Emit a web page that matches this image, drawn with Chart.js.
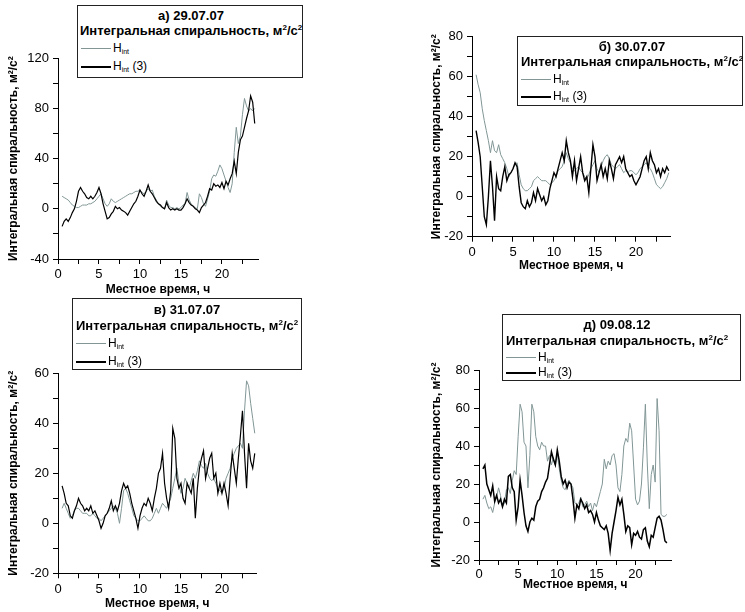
<!DOCTYPE html>
<html lang="ru">
<head>
<meta charset="utf-8">
<script src="https://cdn.jsdelivr.net/npm/chart.js@4.4.0/dist/chart.umd.min.js"></script>
<style>
  body { margin: 0; background: #fff; font-family: "Liberation Sans", Arial, sans-serif; }
  #page { position: relative; width: 745px; height: 612px; overflow: hidden; }
  canvas { position: absolute; left: 0; top: 0; }
  .box { position: absolute; box-sizing: border-box; border: 1px solid #222; background: #fff; color: #000; }
  .box div { position: absolute; white-space: nowrap; line-height: 14px; }
  .hd, .sub { font-weight: bold; font-size: 13px; }
  .hd { text-align: center; }
  .it { font-size: 12px; left: 3px; }
  .sw { display: inline-block; width: 30px; vertical-align: middle; margin-right: 2px; }
  .sw.g { border-top: 1px solid #829696; }
  .sw.k { border-top: 2px solid #000; }
  sub { font-size: 7px; vertical-align: -2px; }
  sup { font-size: 8px; vertical-align: 5px; line-height: 0; }
</style>
</head>
<body>
<div id="page">
  <canvas id="chA" width="745" height="612"></canvas>
  <canvas id="chB" width="745" height="612"></canvas>
  <canvas id="chV" width="745" height="612"></canvas>
  <canvas id="chD" width="745" height="612"></canvas>

  <div class="box" style="left:77px;top:5px;width:226px;height:73px">
    <div class="hd" style="top:3px;left:2px;width:222px">а) 29.07.07</div>
    <div class="sub" style="top:18px;left:2px">Интегральная спиральность, м<sup>2</sup>/с<sup>2</sup></div>
    <div class="it" style="top:35px"><span class="sw g"></span>H<sub>int</sub></div>
    <div class="it" style="top:53px"><span class="sw k"></span>H<sub>int</sub> (3)</div>
  </div>
  <div class="box" style="left:517px;top:36px;width:226px;height:70px">
    <div class="hd" style="top:3px;left:3px;width:222px">б) 30.07.07</div>
    <div class="sub" style="top:18px;left:3px">Интегральная спиральность, м<sup>2</sup>/с<sup>2</sup></div>
    <div class="it" style="top:35px"><span class="sw g"></span>H<sub>int</sub></div>
    <div class="it" style="top:52px"><span class="sw k"></span>H<sub>int</sub> (3)</div>
  </div>
  <div class="box" style="left:72px;top:298px;width:230px;height:72px">
    <div class="hd" style="top:4px;left:3px;width:222px">в) 31.07.07</div>
    <div class="sub" style="top:20px;left:3px">Интегральная спиральность, м<sup>2</sup>/с<sup>2</sup></div>
    <div class="it" style="top:37px"><span class="sw g"></span>H<sub>int</sub></div>
    <div class="it" style="top:55px"><span class="sw k"></span>H<sub>int</sub> (3)</div>
  </div>
  <div class="box" style="left:502px;top:314px;width:239px;height:67px">
    <div class="hd" style="top:3px;left:3px;width:222px">д) 09.08.12</div>
    <div class="sub" style="top:19px;left:3px">Интегральная спиральность, м<sup>2</sup>/с<sup>2</sup></div>
    <div class="it" style="top:35px"><span class="sw g"></span>H<sub>int</sub></div>
    <div class="it" style="top:50px"><span class="sw k"></span>H<sub>int</sub> (3)</div>
  </div>
</div>

<script>
// local time, hours
const hours = [
  0.5, 0.75, 1, 1.25, 1.5, 1.75, 2, 2.25, 2.5, 2.75,
  3, 3.25, 3.5, 3.75, 4, 4.25, 4.5, 4.75, 5, 5.25,
  5.5, 5.75, 6, 6.25, 6.5, 6.75, 7, 7.25, 7.5, 7.75,
  8, 8.25, 8.5, 8.75, 9, 9.25, 9.5, 9.75, 10, 10.25,
  10.5, 10.75, 11, 11.25, 11.5, 11.75, 12, 12.25, 12.5, 12.75,
  13, 13.25, 13.5, 13.75, 14, 14.25, 14.5, 14.75, 15, 15.25,
  15.5, 15.75, 16, 16.25, 16.5, 16.75, 17, 17.25, 17.5, 17.75,
  18, 18.25, 18.5, 18.75, 19, 19.25, 19.5, 19.75, 20, 20.25,
  20.5, 20.75, 21, 21.25, 21.5, 21.75, 22, 22.25, 22.5, 22.75,
  23, 23.25, 23.5, 23.75, 24
];

// а) 29.07.07
const aHint = [
  10, 9, 8, 7, 5, 3, 2, 1, 1, 2,
  3, 3, 3, 4, 4, 5, 6, 8, 10, 12,
  8, 4, 2, 4, 8, 6, 5, 6, 7, 8,
  9, 10, 11, 12, 12, 13, 14, 14, 15, 13,
  12, 14, 16, 14, 15, 10, 7, 4, 2, 1,
  0, 7, 3, 1, 1, 0, 1, 0, 1, 3,
  4, 13, 7, 4, 2, 1, 0, 12, 9, 4,
  2, 8, 14, 24, 27, 26, 30, 35, 32, 27,
  22, 17, 13, 20, 45, 65, 52, 58, 75, 88,
  82, 78, 80, 78, 80
];
const aHint3 = [
  -14, -10, -8, -10, -7, -3, 0, 6, 14, 17,
  14, 12, 9, 8, 10, 8, 10, 13, 17, 12,
  4, -2, -8, -7, -4, -2, 2, 0, 1, -1,
  -2, -3, -5, -2, 1, 4, 6, 10, 15, 12,
  10, 14, 19, 14, 12, 9, 6, 4, 3, 1,
  0, 5, 1, -1, 0, -1, 0, -1, -1, 1,
  4, 8, 5, 3, 2, 0, -1, -3, 1, 3,
  5, 10, 16, 15, 20, 18, 19, 17, 21, 16,
  22, 19, 24, 28, 38, 28, 45, 55, 58, 65,
  72, 78, 90, 85, 68
];

// б) 30.07.07
const bHint = [
  61, 56, 52, 44, 38, 33, 28, 22, 28, 23,
  22, 26, 21, 19, 17, 14, 10, 12, 14, 16,
  17, 11, 6, 4, 3, 3, 4, 5, 8, 9,
  10, 9, 8, 8, 8, 7, 6, 7, 8, 10,
  13, 14, 15, 18, 22, 19, 17, 14, 13, 14,
  15, 13, 12, 10, 9, 11, 14, 16, 18, 14,
  12, 15, 18, 20, 21, 19, 16, 15, 14, 15,
  16, 14, 12, 13, 12, 13, 13, 12, 11, 12,
  14, 15, 16, 17, 15, 14, 12, 9, 6, 5,
  4, 5, 7, 9, 12
];
const bHint3 = [
  33, 27, 20, 5, -10, -14, 0, 18, 5, -12,
  10, 4, 3, 10, 15, 8, 11, 12, 14, 17,
  15, 5, -3, -5, -6, -2, -5, -3, 2, -2,
  4, 1, -2, 0, -4, -2, 4, 8, 12, 10,
  14, 18, 22, 18, 28, 22, 18, 10, 18, 8,
  14, 20, 12, 8, 10, 2, 14, 26, 20, 8,
  12, 16, 10, 14, 9, 18, 14, 9, 16, 18,
  20, 17, 20, 14, 12, 10, 11, 8, 6, 8,
  10, 14, 18, 20, 14, 22, 18, 16, 12, 14,
  10, 14, 12, 15, 13
];

// в) 31.07.07
const vHint = [
  6, 8, 6, 4, 2, 3, 5, 6, 6, 5,
  4, 4, 4, 3, 3, 4, 3, 2, 2, 1,
  2, 3, 4, 5, 6, 7, 6, 4, 0, 6,
  13, 14, 12, 9, 6, 3, 2, 1, 1, 2,
  3, 2, 1, 1, 2, 4, 6, 4, 6, 8,
  7, 6, 8, 10, 14, 18, 22, 16, 12, 14,
  18, 16, 14, 17, 20, 18, 21, 25, 23, 22,
  24, 20, 18, 17, 18, 16, 14, 13, 12, 14,
  18, 20, 22, 26, 28, 30, 31, 32, 30, 45,
  57, 55, 48, 42, 36
];
const vHint3 = [
  15, 12, 8, 7, 3, 2, 5, 7, 10, 8,
  7, 5, 6, 5, 7, 4, 5, 3, 1, -2,
  0, 3, 4, 6, 9, 5, 7, 5, 8, 13,
  16, 14, 15, 12, 8, 5, 2, -2, 3, 6,
  8, 7, 10, 8, 5, 10, 14, 20, 22, 28,
  16, 10, 6, 13, 38, 34, 18, 14, 16, 10,
  8, 16, 14, 12, 18, 2, 14, 22, 26, 29,
  18, 22, 26, 28, 18, 20, 12, 16, 12, 16,
  12, 7, 18, 28, 22, 16, 26, 35, 45, 28,
  14, 32, 25, 22, 28
];

// д) 09.08.12
const dHint = [
  12, 14, 10, 7, 8, 5, 10, 13, 18, 14,
  8, 10, 17, 18, 15, 22, 27, 25, 45, 62,
  58, 42, 40, 18, 35, 62, 58, 45, 40, 38,
  42, 40, 40, 32, 35, 30, 34, 30, 36, 28,
  22, 18, 17, 20, 22, 20, 18, 10, 9, 10,
  13, 8, 9, 11, 8, 10, 6, 10, 8, 12,
  16, 20, 33, 28, 32, 30, 35, 36, 30, 18,
  16, 25, 40, 44, 42, 52, 48, 30, 12, 9,
  11, 20, 39, 62, 30, 7, 25, 30, 21, 65,
  48, 4, 3, 3, 4
];
const dHint3 = [
  28, 30, 20, 17, 14, 19, 11, 14, 10, 12,
  8, 12, 10, 24, 25, 18, 16, 1, 8, 22,
  14, 5, -2, -5, 0, 2, 1, 8, 11, 12,
  16, 18, 21, 23, 30, 37, 33, 30, 38, 32,
  24, 20, 22, 18, 21, 20, 12, 2, 9, 7,
  12, 10, 7, 9, 5, 6, 4, 0, 5, 1,
  -2, -3, -4, -2, -6, -15, -6, 0, 6, 13,
  9, 12, 4, -5, -2, -3, -12, -6, -7, -5,
  -8, -9, -4, -3, -10, -13, -7, -8, -3, 2,
  3, 1, -4, -10, -11
];

const grayColor = '#829696';
const fontFamily = '"Liberation Sans", Arial, sans-serif';
Chart.defaults.font.family = fontFamily;
Chart.defaults.color = '#000';

function makePanel(id, p, gray, black) {
  new Chart(document.getElementById(id), {
    type: 'line',
    data: {
      labels: hours,
      datasets: [
        { label: 'Hint (3)', data: black, borderColor: '#000', borderWidth: p.blackWidth },
        { label: 'Hint', data: gray, borderColor: grayColor, borderWidth: 1 }
      ]
    },
    options: {
      responsive: false,
      animation: false,
      events: [],
      elements: { point: { radius: 0 }, line: { tension: 0 } },
      layout: { padding: p.pad },
      plugins: { legend: { display: false }, tooltip: { enabled: false } },
      scales: {
        x: {
          type: 'linear',
          min: 0,
          max: p.xMax,
          afterFit: s => { s.height = p.xH; },
          ticks: {
            stepSize: 2.5,
            includeBounds: false,
            autoSkip: false,
            maxRotation: 0,
            padding: p.xPad,
            font: { size: 13 },
            callback: v => (v % 5 === 0 ? String(v) : '')
          },
          grid: { drawOnChartArea: false, tickLength: 5, tickColor: '#000' },
          border: { color: '#000', width: 1 },
          title: { display: true, text: 'Местное время, ч', font: { size: 12, weight: 'bold' }, padding: 0 }
        },
        y: {
          min: p.yMin,
          max: p.yMax,
          afterFit: s => { s.width = p.yW; },
          ticks: {
            stepSize: p.yStep,
            includeBounds: false,
            autoSkip: false,
            padding: 4,
            font: { size: 13 },
            callback: v => (v % p.yLab === 0 ? String(v) : '')
          },
          grid: { drawOnChartArea: false, tickLength: 5, tickColor: '#000' },
          border: { color: '#000', width: 1 },
          title: { display: true, text: 'Интегральная спиральность, м²/с²', font: { size: 12, weight: 'bold' }, padding: 0 }
        }
      }
    }
  });
}

makePanel('chA', {
  pad: { left: 6.8, top: 58.3, right: 487, bottom: 314.8 },
  yW: 51.2, xH: 38.2, xMax: 24.4, xPad: 3,
  yMin: -40, yMax: 120, yStep: 20, yLab: 40, blackWidth: 1.2
}, aHint, aHint3);

makePanel('chB', {
  pad: { left: 429.8, top: 36.7, right: 74.6, bottom: 338.8 },
  yW: 42.2, xH: 36.5, xMax: 24.2, xPad: 3,
  yMin: -20, yMax: 80, yStep: 10, yLab: 20, blackWidth: 1.4
}, bHint, bHint3);

makePanel('chV', {
  pad: { left: 6.8, top: 373.3, right: 488.6, bottom: 0.8 },
  yW: 51.2, xH: 37.9, xMax: 24.2, xPad: 3,
  yMin: -20, yMax: 60, yStep: 10, yLab: 20, blackWidth: 1.2
}, vHint, vHint3);

makePanel('chD', {
  pad: { left: 429.8, top: 370, right: 73.4, bottom: 19.8 },
  yW: 49.2, xH: 32.2, xMax: 24.6, xPad: 2,
  yMin: -20, yMax: 80, yStep: 10, yLab: 20, blackWidth: 1.5
}, dHint, dHint3);
</script>
</body>
</html>
